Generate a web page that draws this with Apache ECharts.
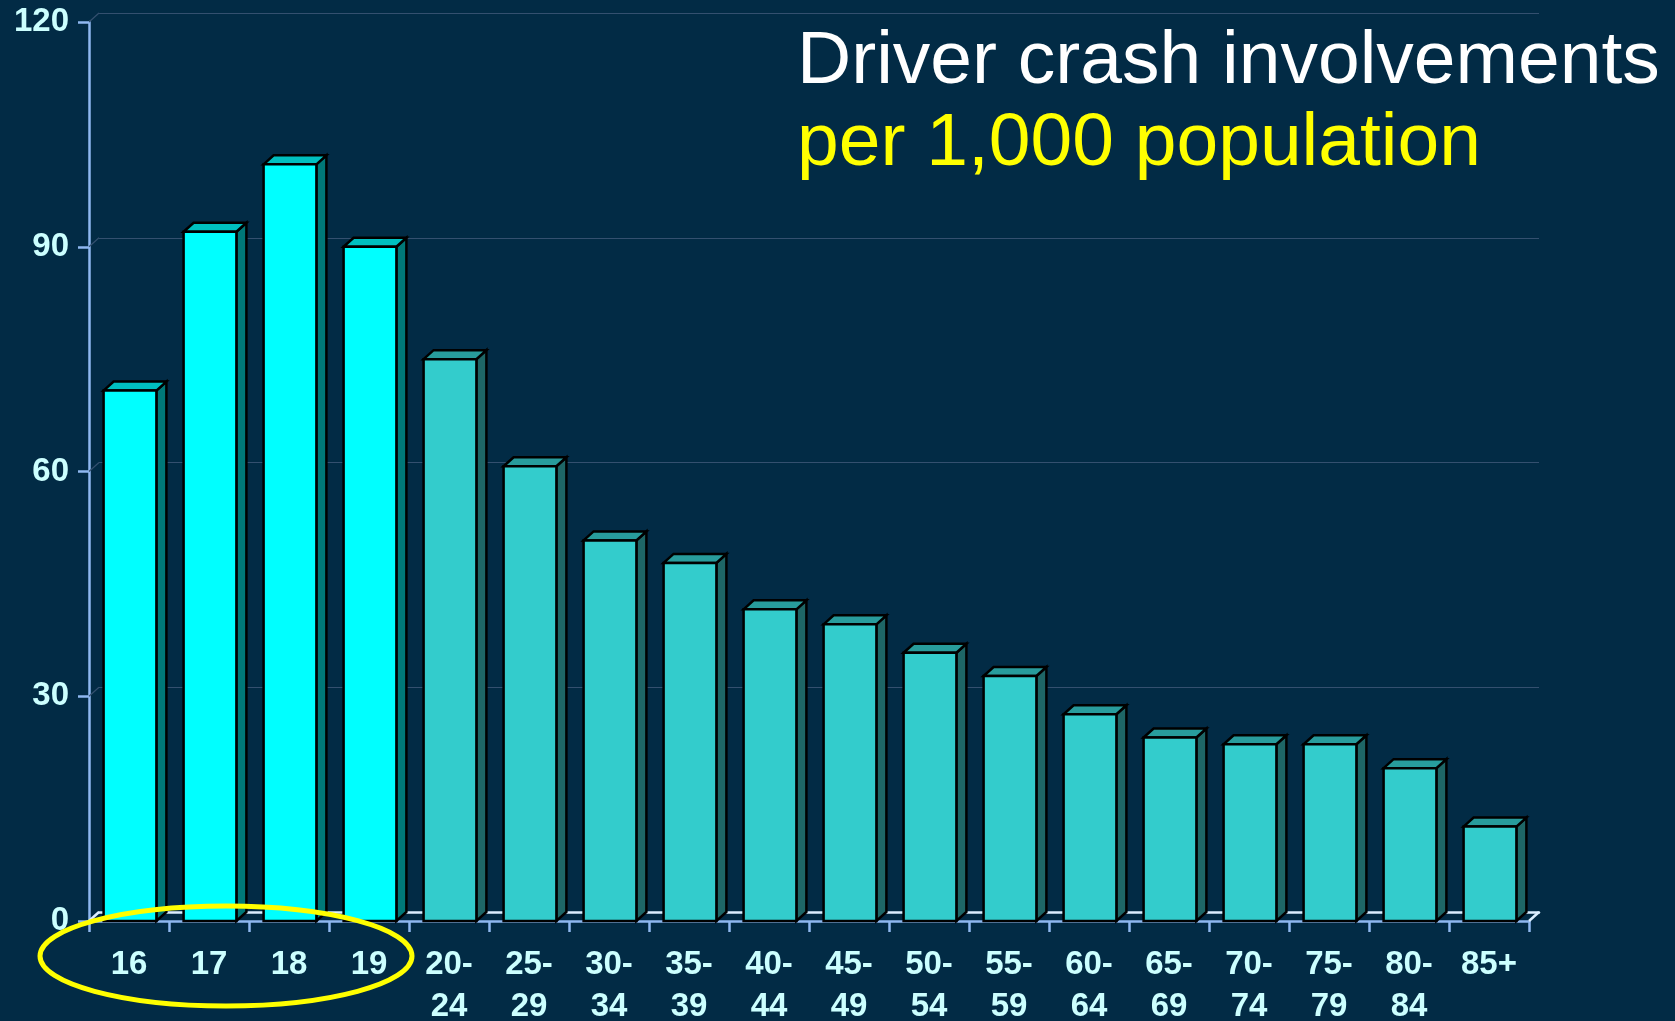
<!DOCTYPE html>
<html>
<head>
<meta charset="utf-8">
<script src="https://cdn.jsdelivr.net/npm/echarts@6/dist/echarts.min.js"></script>
<style>
  html, body { margin: 0; padding: 0; background: #022b45; }
  #chart { width: 1675px; height: 1021px; }
</style>
</head>
<body>
<div id="chart"></div>
<script>
// age groups and crash involvements per 1,000 population
const ageGroups = ["16", "17", "18", "19", "20-24", "25-29", "30-34", "35-39", "40-44",
  "45-49", "50-54", "55-59", "60-64", "65-69", "70-74", "75-79", "80-84", "85+"];
const crashRates = [70.8, 92, 101, 90, 75, 60.7, 50.8, 47.8, 41.6, 39.6, 35.8, 32.7,
  27.6, 24.5, 23.6, 23.6, 20.4, 12.6];
const teenGroups = ["16", "17", "18", "19"];
const yTicks = [0, 30, 60, 90, 120];

const DX = 10, DY = -9; // depth of the 3d look
const labelColor = "#ccffff";
const axisColor = "#8fb8f0";
const wallLine = "#34506f";
const floorLine = "#dceeff";

const colors = {
  teen: { front: "#00ffff", top: "#00c0c0", side: "#007878" },
  rest: { front: "#33cccc", top: "#289c9c", side: "#1e6666" }
};

const chart = echarts.init(document.getElementById("chart"));

const renderBar = (params, api) => {
  const idx = api.value(0);
  const top = api.coord([idx, api.value(1)]);
  const base = api.coord([idx, 0]);
  const w = api.size([1, 0])[0] * 0.66;
  const xl = top[0] - w / 2 + 1;
  const xr = xl + w;
  const c = teenGroups.includes(ageGroups[idx]) ? colors.teen : colors.rest;
  const stroke = { stroke: "#000", lineWidth: 2.5, lineJoin: "miter" };
  return {
    type: "group",
    children: [
      {
        type: "polygon",
        shape: { points: [[xr, top[1]], [xr + DX, top[1] + DY], [xr + DX, base[1] + DY], [xr, base[1]]] },
        style: Object.assign({ fill: c.side }, stroke)
      },
      {
        type: "polygon",
        shape: { points: [[xl, top[1]], [xl + DX, top[1] + DY], [xr + DX, top[1] + DY], [xr, top[1]]] },
        style: Object.assign({ fill: c.top }, stroke)
      },
      {
        type: "rect",
        shape: { x: xl, y: top[1], width: w, height: base[1] - top[1] },
        style: Object.assign({ fill: c.front }, stroke)
      }
    ]
  };
};

// little diagonals joining the front axis to the back wall
const renderWall = (params, api) => {
  const v = api.value(1);
  const y = api.coord([0, v])[1];
  const x0 = params.coordSys.x;
  const x1 = params.coordSys.x + params.coordSys.width;
  const kids = [{
    type: "line",
    shape: { x1: x0, y1: y, x2: x0 + DX, y2: y + DY },
    style: { stroke: v === 0 ? floorLine : wallLine, lineWidth: v === 0 ? 2.5 : 1.2 }
  }];
  if (v === 0) {
    kids.push({
      type: "line",
      shape: { x1: x1, y1: y, x2: x1 + DX, y2: y + DY },
      style: { stroke: floorLine, lineWidth: 2.5 }
    });
  }
  return { type: "group", children: kids };
};

const option = {
  backgroundColor: "#022b45",
  animation: false,
  textStyle: { fontFamily: "Liberation Sans, Arial, sans-serif" },
  title: [
    {
      text: "Driver crash involvements",
      left: 797, top: 25, padding: 0,
      textStyle: { color: "#ffffff", fontSize: 75, fontWeight: "normal", fontFamily: "Liberation Sans" }
    },
    {
      text: "per 1,000 population",
      left: 797, top: 107, padding: 0,
      textStyle: { color: "#ffff00", fontSize: 75, fontWeight: "normal", fontFamily: "Liberation Sans" }
    }
  ],
  grid: [
    // front plane
    { left: 89, top: 22, width: 1440, height: 899, containLabel: false, outerBoundsMode: "none" },
    // back wall
    { left: 89 + DX, top: 22 + DY, width: 1440, height: 899, containLabel: false, outerBoundsMode: "none" }
  ],
  xAxis: [
    {
      type: "category",
      gridIndex: 0,
      data: ageGroups,
      axisLine: { lineStyle: { color: axisColor, width: 2.5 } },
      axisTick: { show: true, length: 11, lineStyle: { color: axisColor, width: 2.5 } },
      axisLabel: {
        interval: 0,
        margin: 23,
        color: labelColor,
        fontSize: 33,
        fontWeight: "bold",
        lineHeight: 42,
        formatter: v => v.replace("-", "-\n")
      }
    },
    {
      type: "category",
      gridIndex: 1,
      data: ageGroups,
      axisLine: { lineStyle: { color: floorLine, width: 2.5 } },
      axisTick: { show: false },
      axisLabel: { show: false }
    }
  ],
  yAxis: [
    {
      type: "value",
      gridIndex: 0,
      min: 0, max: 120, interval: 30,
      axisLine: { show: true, lineStyle: { color: axisColor, width: 2.5 } },
      axisTick: { show: true, length: 11, lineStyle: { color: axisColor, width: 2.5 } },
      splitLine: { show: false },
      axisLabel: {
        margin: 20,
        color: labelColor,
        fontSize: 33,
        fontWeight: "bold"
      }
    },
    {
      type: "value",
      gridIndex: 1,
      min: 0, max: 120, interval: 30,
      axisLine: { show: false },
      axisTick: { show: false },
      axisLabel: { show: false },
      splitLine: { show: true, lineStyle: { color: wallLine, width: 1.2 } }
    }
  ],
  graphic: [
    {
      type: "ellipse",
      shape: { cx: 226, cy: 956, rx: 186, ry: 50 },
      style: { fill: null, stroke: "#ffff00", lineWidth: 5 },
      z: 100
    }
  ],
  series: [
    {
      type: "custom",
      name: "wall",
      xAxisIndex: 0,
      yAxisIndex: 0,
      renderItem: renderWall,
      data: yTicks.map(v => [0, v]),
      z: 1,
      silent: true
    },
    {
      type: "custom",
      name: "crash involvements",
      xAxisIndex: 0,
      yAxisIndex: 0,
      renderItem: renderBar,
      data: crashRates.map((v, i) => [i, v]),
      z: 5
    }
  ]
};

chart.setOption(option);
</script>
</body>
</html>
